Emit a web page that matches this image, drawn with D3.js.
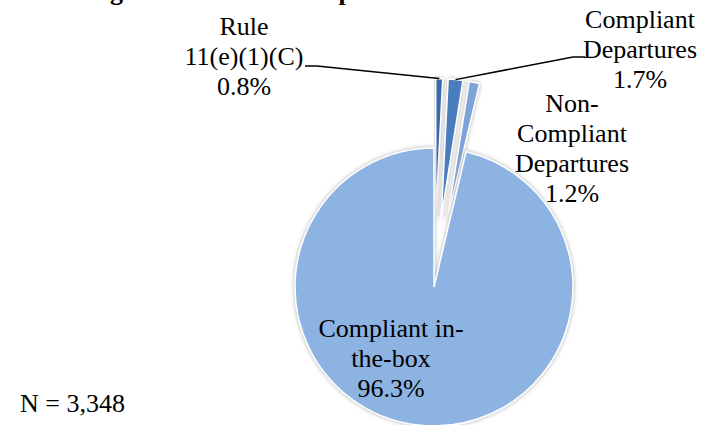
<!DOCTYPE html>
<html>
<head>
<meta charset="utf-8">
<script src="https://cdn.jsdelivr.net/npm/d3@7"></script>
<style>
  body { margin: 0; background: #fff; }
</style>
</head>
<body>
<script>
// chart data
const categories = ["Rule 11(e)(1)(C)", "Compliant Departures", "Non-Compliant Departures", "Compliant in-the-box"]
const shares = [0.8, 1.7, 1.2, 96.3]
const labelLines = [["Rule", "11(e)(1)(C)"], ["Compliant", "Departures"], ["Non-", "Compliant", "Departures"], ["Compliant in-", "the-box"]]
const colors = ["#3b68a9", "#4a7dbd", "#7ea3d6", "#8db3e2"]
const explode = [0.5, 0.5, 0.5, 0]
const totalN = "3,348"
const title = "Figure 7: Overall Compliance Rates"

const width = 706, height = 425
const cx = 434, cy = 287, radius = 139
const fontSize = 26, lineH = 30
const serif = "Liberation Serif"

// label anchors (center x, first baseline y)
const labelPos = [[244, 35], [640, 28], [572, 112], [391, 337]]

const svg = d3.select("body").append("svg")
  .attr("width", width)
  .attr("height", height)

const defs = svg.append("defs")
const shadow = defs.append("filter").attr("id", "shade")
  .attr("x", "-20%").attr("y", "-20%").attr("width", "140%").attr("height", "140%")
shadow.append("feDropShadow")
  .attr("dx", 0).attr("dy", 0).attr("stdDeviation", 2)
  .attr("flood-color", "#777").attr("flood-opacity", 0.6)

// title sits above the visible area, only its descenders show
svg.append("text")
  .attr("x", 87).attr("y", 0)
  .attr("font-family", serif)
  .attr("font-size", 26).attr("font-weight", "bold")
  .text(title)

const pie = d3.pie().sort(null).value(d => d)
const arcs = pie(shares)
const arc = d3.arc().innerRadius(0).outerRadius(radius)

function offset(d, i) {
  var a = (d.startAngle + d.endAngle) / 2
  var r = explode[i] * radius
  return [Math.sin(a) * r, -Math.cos(a) * r]
}

const g = svg.append("g").attr("transform", "translate(" + cx + "," + cy + ")")

g.selectAll("path")
  .data(arcs)
  .enter()
  .append("path")
  .attr("transform", (d, i) => "translate(" + offset(d, i) + ")")
  .attr("d", arc)
  .attr("fill", (d, i) => colors[i])
  .attr("stroke", "#fff")
  .attr("stroke-width", 1.5)
  .attr("filter", "url(#shade)")

// outer point of slice along its bisector
function outerPoint(d, i) {
  var a = (d.startAngle + d.endAngle) / 2
  var r = radius + explode[i] * radius
  return [cx + Math.sin(a) * r, cy - Math.cos(a) * r]
}

// leader lines
const leaders = [
  [[305, 66], [317, 66]],
  [[585, 57], [573, 57]]
]
leaders.forEach(function(pts, i) {
  var all = pts.concat([outerPoint(arcs[i], i)])
  svg.append("path")
    .attr("d", d3.line()(all))
    .attr("fill", "none")
    .attr("stroke", "#000")
    .attr("stroke-width", 1.5)
})

const fmt = d3.format(".1f")
labelLines.forEach(function(lines, i) {
  var t = svg.append("text")
    .attr("text-anchor", "middle")
    .attr("font-family", serif)
    .attr("font-size", fontSize)
  lines.concat([fmt(shares[i]) + "%"]).forEach(function(s, j) {
    t.append("tspan")
      .attr("x", labelPos[i][0])
      .attr("y", labelPos[i][1] + j * lineH)
      .text(s)
  })
})

svg.append("text")
  .attr("x", 20).attr("y", 412)
  .attr("font-family", serif)
  .attr("font-size", fontSize)
  .text("N = " + totalN)
</script>
</body>
</html>
